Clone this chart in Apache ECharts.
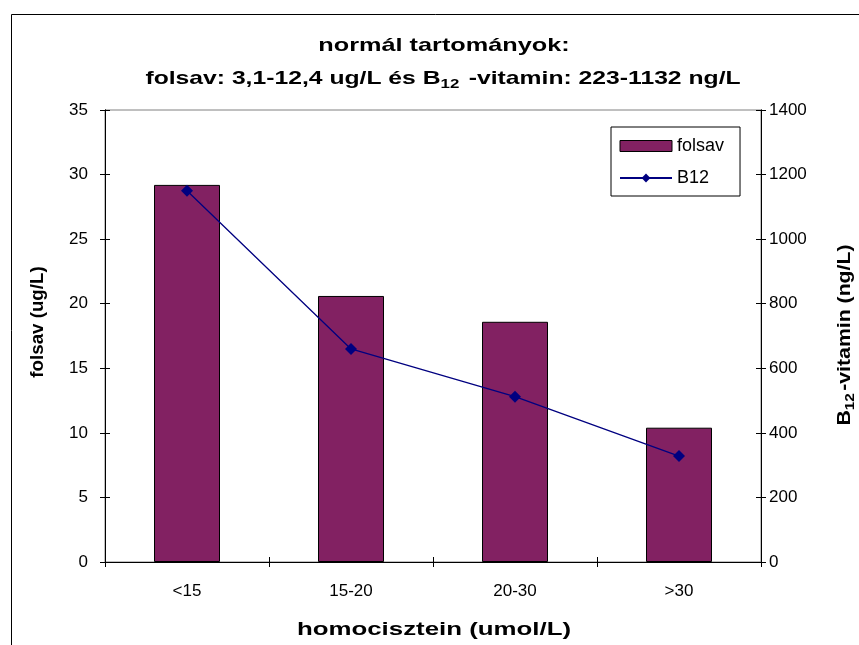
<!DOCTYPE html>
<html>
<head>
<meta charset="utf-8">
<script src="https://cdn.jsdelivr.net/npm/echarts@6/dist/echarts.min.js"></script>
<style>
  html, body { margin: 0; padding: 0; background: #ffffff; }
  #chart { width: 859px; height: 645px; }
</style>
</head>
<body>
<div id="chart"></div>
<script>
// Homocysteine groups and the mean folate / B12 level in each
const categories = ['<15', '15-20', '20-30', '>30'];
const folsavValues = [29.2, 20.6, 18.6, 10.4];   // ug/L, left axis
const b12Values = [1150, 660, 512, 328];          // ng/L, right axis

const leftMin = 0, leftMax = 35, leftStep = 5;
const rightMin = 0, rightMax = 1400, rightStep = 200;

const FONT = '"Liberation Sans", Arial, sans-serif';
const BAR_COLOR = '#822162';
const LINE_COLOR = '#000080';

const chart = echarts.init(document.getElementById('chart'), null, { renderer: 'canvas' });

// value axis; the label-less copies only draw inward ticks so the ticks cross the axis line
function valueAxis(pos, min, max, step, withLabels) {
  return {
    type: 'value',
    position: pos,
    min: min, max: max, interval: step,
    splitLine: { show: false },
    axisLine: { show: true, lineStyle: { color: '#000', width: 1 } },
    axisTick: { show: true, inside: !withLabels, length: 5, lineStyle: { color: '#000' } },
    axisLabel: withLabels ? {
      show: true, color: '#000', fontFamily: FONT, fontSize: 17,
      margin: pos === 'left' ? 17 : 8,
      formatter: function (v) { return String(v); }
    } : { show: false }
  };
}

// bold caption text, stretched horizontally a little; {s|..} marks a subscript
function caption(text, x, y, size, sx, rot) {
  const lh = Math.round(size * 1.25);
  return {
    type: 'text',
    x: x, y: y,
    scaleX: sx,
    rotation: rot || 0,
    silent: true,
    style: {
      text: text,
      x: 0, y: 0,
      align: 'center',
      verticalAlign: 'middle',
      fontFamily: FONT,
      fontSize: size,
      fontWeight: 'bold',
      lineHeight: lh,
      fill: '#000',
      rich: {
        s: { fontFamily: FONT, fontSize: Math.round(size * 0.7), fontWeight: 'bold', fill: '#000',
             verticalAlign: 'bottom', lineHeight: lh - 10, padding: [0, 2, 0, 0] }
      }
    }
  };
}

const option = {
  backgroundColor: '#ffffff',
  animation: false,
  legend: {
    orient: 'vertical',
    left: 611,
    top: 127,
    padding: [10, 16, 9, 8],
    itemGap: 14,
    itemWidth: 52,
    itemHeight: 11,
    backgroundColor: '#fff',
    borderColor: '#000',
    borderWidth: 1,
    borderRadius: 0,
    textStyle: { fontFamily: FONT, fontSize: 18, color: '#000' },
    data: [
      { name: 'folsav', icon: 'rect', itemStyle: { color: BAR_COLOR, borderColor: '#000', borderWidth: 1 } },
      { name: 'B12' }
    ]
  },
  grid: {
    left: 105, right: 98, top: 110, bottom: 83,
    show: true, borderColor: '#808080', borderWidth: 1,
    containLabel: false
  },
  xAxis: [{
    type: 'category',
    data: categories,
    axisLine: { show: true, lineStyle: { color: '#000', width: 1 } },
    axisTick: { show: true, length: 5, lineStyle: { color: '#000' } },
    axisLabel: { color: '#000', fontFamily: FONT, fontSize: 17, margin: 21 }
  }, {
    type: 'category',
    data: categories,
    position: 'bottom',
    axisLine: { show: false },
    axisTick: { show: true, inside: true, length: 5, lineStyle: { color: '#000' } },
    axisLabel: { show: false }
  }],
  yAxis: [
    valueAxis('left', leftMin, leftMax, leftStep, true),
    valueAxis('right', rightMin, rightMax, rightStep, true),
    valueAxis('left', leftMin, leftMax, leftStep, false),
    valueAxis('right', rightMin, rightMax, rightStep, false)
  ],
  series: [
    {
      name: 'folsav',
      type: 'bar',
      xAxisIndex: 0,
      yAxisIndex: 0,
      data: folsavValues,
      barWidth: 66,
      itemStyle: { color: BAR_COLOR, borderColor: '#000', borderWidth: 1 }
    },
    {
      name: 'B12',
      type: 'line',
      xAxisIndex: 0,
      yAxisIndex: 1,
      data: b12Values,
      symbol: 'diamond',
      symbolSize: 12,
      lineStyle: { color: LINE_COLOR, width: 1.3 },
      itemStyle: { color: LINE_COLOR },
      z: 5
    }
  ],
  graphic: [
    {
      type: 'rect',
      shape: { x: 11.5, y: 14.5, width: 900, height: 700 },
      style: { fill: null, stroke: '#000', lineWidth: 1 },
      silent: true,
      z: -10
    },
    caption('normál tartományok:', 444, 46, 19, 1.33),
    caption('folsav: 3,1-12,4 ug/L és B{s|12} -vitamin: 223-1132 ng/L', 443, 79, 19, 1.3),
    caption('homocisztein (umol/L)', 434, 630, 19, 1.36),
    caption('folsav (ug/L)', 38, 322, 18, 1.04, Math.PI / 2),
    caption('B{s|12}-vitamin (ng/L)', 845, 335, 18, 1.18, Math.PI / 2)
  ]
};

chart.setOption(option);
</script>
</body>
</html>
